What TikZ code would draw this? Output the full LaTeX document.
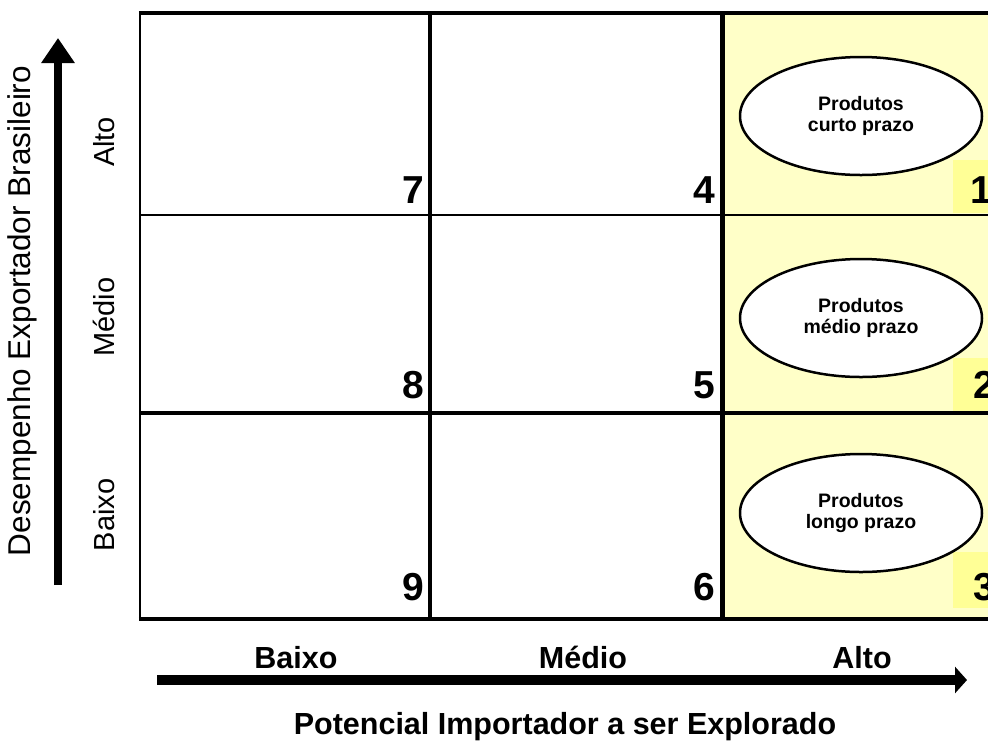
\documentclass[tikz,border=0pt]{standalone}
\usepackage{fontspec}
\setmainfont{Liberation Sans}
\usetikzlibrary{shapes.geometric,arrows.meta}
\definecolor{altofill}{RGB}{255,255,200}
\definecolor{numfill}{RGB}{255,255,150}
\tikzset{
  gridline/.style={line width=#1, black},
  num/.style={font=\fontsize{39}{39}\selectfont\bfseries, anchor=base east, inner sep=0pt},
  rowlab/.style={font=\fontsize{29}{29}\selectfont, inner sep=0pt, anchor=base, rotate=90},
  axlab/.style={font=\fontsize{31.5}{31.5}\selectfont, inner sep=0pt, anchor=base, rotate=90},
  collab/.style={font=\fontsize{30.5}{30.5}\selectfont\bfseries, inner sep=0pt, anchor=base},
  prod/.style={ellipse, draw, line width=2.5pt, fill=white, minimum width=242pt, minimum height=118pt,
    inner sep=0pt, align=center, font=\fontsize{19.5}{21.5}\selectfont\bfseries},
  bigarrow/.style={line width=#1, black},
}
\begin{document}
\begin{tikzpicture}[x=1pt,y=-1pt]
\useasboundingbox (0,0) rectangle (988,740);
\fill[white] (0,0) rectangle (988,740);
% high column
\fill[altofill] (722,13) rectangle (1014,619);
\fill[numfill] (953,160) rectangle (1000,213);
\fill[numfill] (953,358) rectangle (1000,411);
\fill[numfill] (953,552) rectangle (1000,608);
% grid
\draw[gridline=2.5pt] (140,215) -- (1014,215);
\draw[gridline=3.5pt] (140,413) -- (1014,413);
\draw[gridline=2.5pt] (140,11) -- (140,621);
\draw[gridline=4.5pt] (430,11) -- (430,621);
\draw[gridline=5pt] (722,11) -- (722,621);
\draw[gridline=4pt] (138.75,13) -- (1014,13);
\draw[gridline=4pt] (138.75,619) -- (1014,619);
% ellipses
\node[prod] (e1) at (861,116) {Produtos\\curto prazo};
\node[prod] (e2) at (861,318) {Produtos\\médio prazo};
\node[prod] (e3) at (861,513) {Produtos\\longo prazo};
% numbers
\node[num] (n7) at (424.5,203) {7};
\node[num] (n4) at (715,203) {4};
\node[num] (n1) at (992,203) {1};
\node[num] (n8) at (424.5,398) {8};
\node[num] (n5) at (715,398) {5};
\node[num] (n2) at (995,398) {2};
\node[num] (n9) at (424.5,600) {9};
\node[num] (n6) at (715,600) {6};
\node[num] (n3) at (995,600) {3};
% vertical axis
\coordinate (ybot) at (58,585);
\coordinate (ytop) at (58,38);
\draw[bigarrow=8pt, -{Triangle[width=32pt,length=25pt]}] (ybot) -- (ytop);
\node[axlab] (ylab) at (30,311) {Desempenho Exportador Brasileiro};
\node[rowlab] (ralto) at (114.5,142) {Alto};
\node[rowlab] (rmedio) at (114.5,317) {Médio};
\node[rowlab] (rbaixo) at (114.5,515) {Baixo};
% horizontal axis
\coordinate (xleft) at (157,680);
\coordinate (xright) at (967,680);
\draw[bigarrow=10.5pt, -{Triangle[width=26pt,length=12pt]}] (xleft) -- (xright);
\node[collab] (cbaixo) at (296,668) {Baixo};
\node[collab] (cmedio) at (583,668) {Médio};
\node[collab] (calto) at (862,668) {Alto};
\node[collab] (xlab) at (565,734.5) {Potencial Importador a ser Explorado};
\end{tikzpicture}
\end{document}
